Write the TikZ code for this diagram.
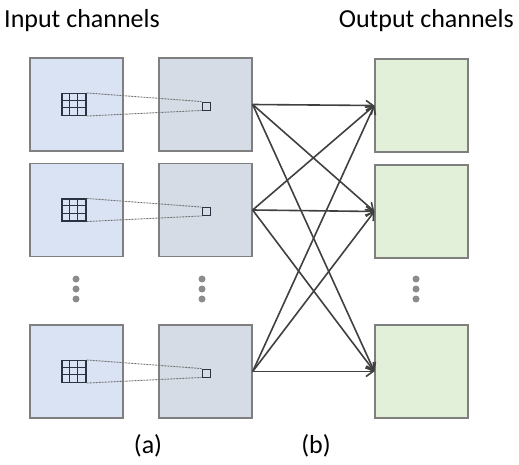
\documentclass[tikz,border=0pt]{standalone}
\usepackage{fontspec}
\setmainfont{Carlito}
\usetikzlibrary{arrows.meta,calc}
\definecolor{inblue}{HTML}{DAE3F3}
\definecolor{midgray}{HTML}{D6DCE5}
\definecolor{outgreen}{HTML}{E2F0D9}
\definecolor{edgegray}{HTML}{7F7F7F}
\definecolor{arrowgray}{HTML}{404040}
\definecolor{griddark}{HTML}{2A3342}
\definecolor{dotgray}{HTML}{8C8C8C}
\tikzset{
  chan/.style={draw=edgegray, line width=1.3pt, minimum width=93pt, minimum height=93pt, inner sep=0pt},
  inbox/.style={chan, fill=inblue},
  midbox/.style={chan, fill=midgray},
  outbox/.style={chan, fill=outgreen},
  kernel/.style={draw=griddark, line width=1.1pt, minimum width=24pt, minimum height=22pt, inner sep=0pt},
  pix/.style={draw=griddark, line width=0.9pt, minimum width=8pt, minimum height=8pt, inner sep=0pt},
  field/.style={dotgray!80!black, line width=0.9pt, dash pattern=on 2pt off 1pt},
  conn/.style={arrowgray, line width=1.6pt, -{Straight Barb[length=7pt,width=10pt,line width=1.6pt]}},
  dot/.style={circle, fill=dotgray, minimum size=7pt, inner sep=0pt},
  label/.style={font=\fontsize{26}{30}\selectfont, text=black, inner sep=0pt}
}
\begin{document}
\begin{tikzpicture}[x=1pt,y=-1pt]
\useasboundingbox (0,0) rectangle (519,465);
% titles
\node[label, anchor=base west] (tin) at (4,28) {Input channels};
\node[label, anchor=base east] (tout) at (514,28) {Output channels};
\node[label, anchor=base] (la) at (148,453) {(a)};
\node[label, anchor=base] (lb) at (316,453) {(b)};
% rows
\foreach \i/\y in {1/104.5, 2/210, 3/371.5} {
  \node[inbox] (in\i) at (76.5,\y) {};
  \node[midbox] (m\i) at (205.5,\y) {};
  \node[kernel] (g\i) at (74,\y) {};
  \draw[griddark, line width=1.1pt]
    ($(g\i.north west)+(8,0)$) -- ($(g\i.south west)+(8,0)$)
    ($(g\i.north west)+(16,0)$) -- ($(g\i.south west)+(16,0)$)
    ($(g\i.north west)+(0,7.33)$) -- ($(g\i.north east)+(0,7.33)$)
    ($(g\i.north west)+(0,14.67)$) -- ($(g\i.north east)+(0,14.67)$);
  \node[pix] (s\i) at (206,\y+1.5) {};
  \draw[field] (g\i.north east) -- (s\i.north west);
  \draw[field] (g\i.south east) -- (s\i.south west);
}
\foreach \i/\y in {1/105.5, 2/211.5, 3/371.5} {
  \node[outbox] (o\i) at (421.5,\y) {};
}
% dots
\foreach \x/\c in {76/a, 202/b, 416/c} {
  \node[dot] (d\c1) at (\x,279) {};
  \node[dot] (d\c2) at (\x,289) {};
  \node[dot] (d\c3) at (\x,299) {};
}
% connections
\foreach \a in {1,2,3} {
  \foreach \b in {1,2,3} {
    \draw[conn] (m\a.east) -- (o\b.west);
  }
}
\end{tikzpicture}
\end{document}
